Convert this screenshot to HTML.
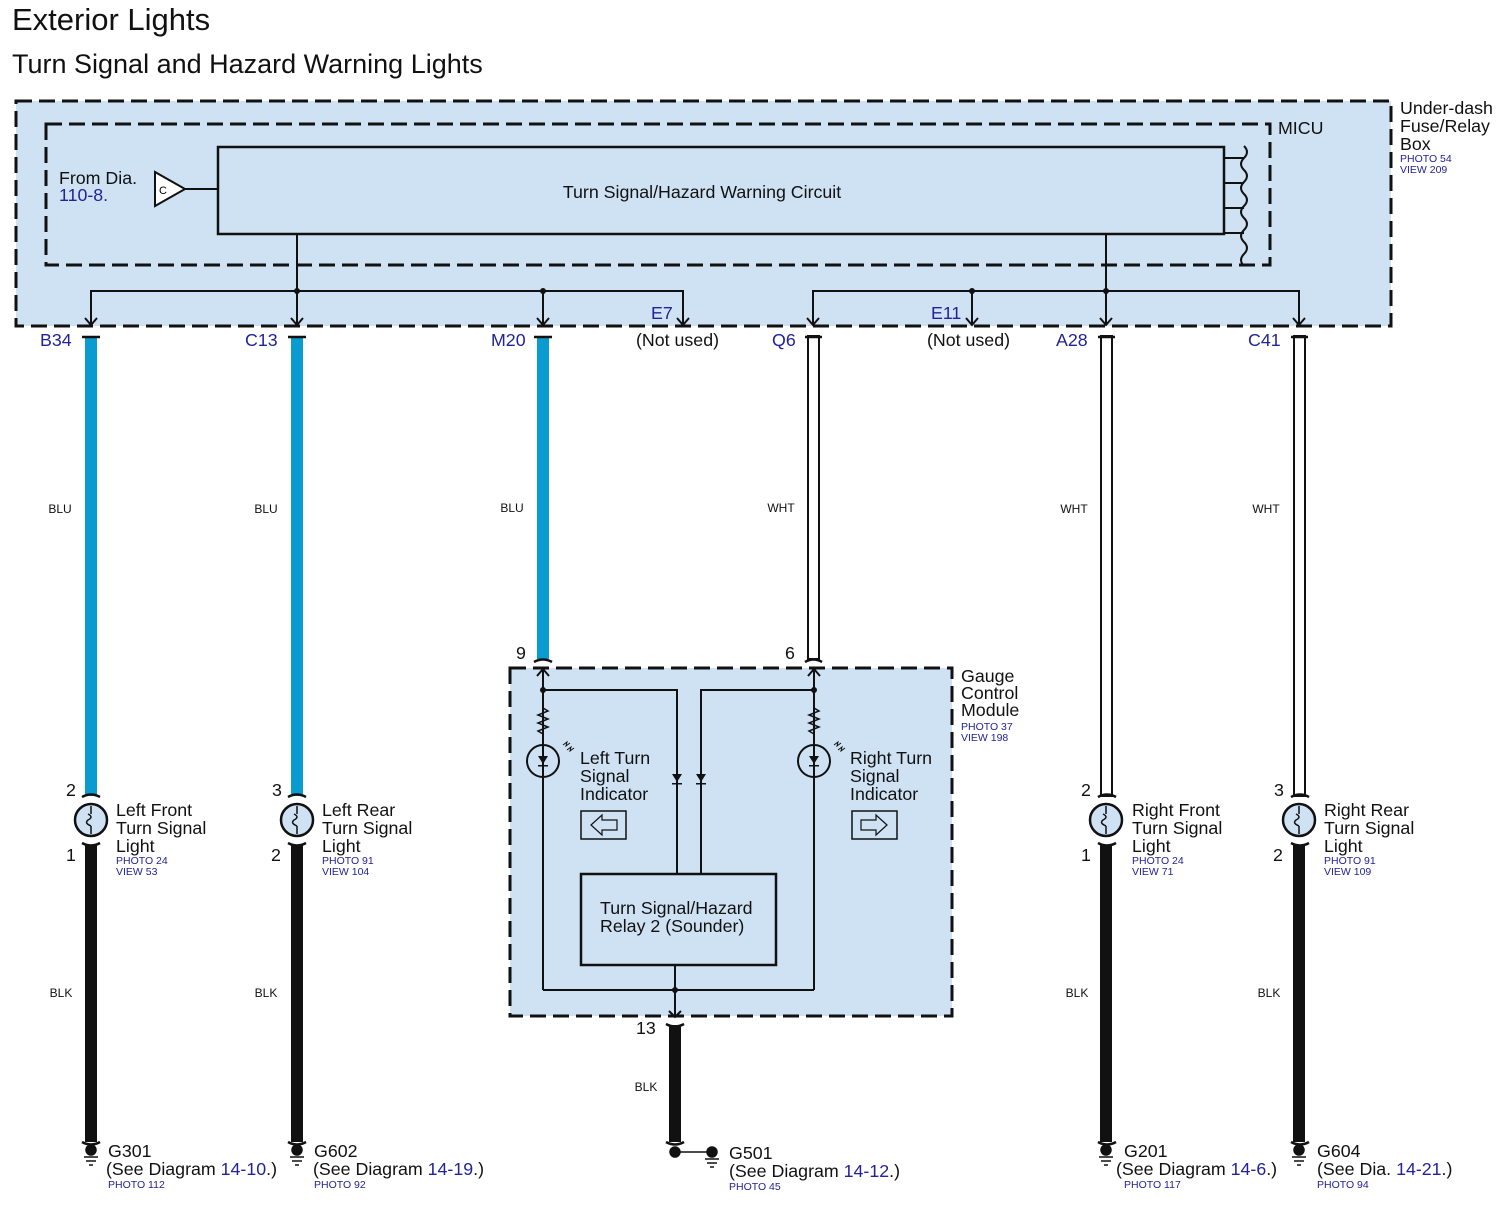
<!DOCTYPE html>
<html><head><meta charset="utf-8"><style>
body{margin:0;background:#fff}
svg{display:block;font-family:"Liberation Sans",sans-serif}
.t{font-size:17.8px;fill:#111}
.b{fill:#22229a}
.s{font-size:10.5px;fill:#22229a}
.w{font-size:12px;fill:#111}
</style></head><body>
<svg width="1503" height="1207" viewBox="0 0 1503 1207">
<text x="12" y="30" style="font-size:31px" fill="#111">Exterior Lights</text>
<text x="12" y="73" style="font-size:27px" fill="#111">Turn Signal and Hazard Warning Lights</text>

<rect x="16" y="101" width="1375" height="225" fill="#cfe2f4" stroke="#111" stroke-width="3" stroke-dasharray="16,7"/>
<rect x="46" y="124" width="1224" height="141" fill="none" stroke="#111" stroke-width="3" stroke-dasharray="16,7"/>
<rect x="218" y="147" width="1006" height="87" fill="#cfe2f4" stroke="#111" stroke-width="2.5"/>
<text x="702" y="198" class="t" text-anchor="middle">Turn Signal/Hazard Warning Circuit</text>
<g stroke="#111" stroke-width="2" fill="none">
<line x1="1224" y1="158" x2="1244" y2="158"/><line x1="1224" y1="183" x2="1244" y2="183"/><line x1="1224" y1="208" x2="1244" y2="208"/><line x1="1224" y1="233" x2="1244" y2="233"/>
<path d="M1244 146 q6 6 0 12 q-6 6 0 12 q6 6 0 12 q-6 6 0 12 q6 6 0 12 q-6 6 0 12 q6 6 0 12 q-6 6 0 12 q6 6 0 12 q-6 6 0 12"/>
</g>
<text x="1278" y="134" class="t">MICU</text>
<text x="1400" y="114" class="t">Under-dash</text>
<text x="1400" y="132" class="t">Fuse/Relay</text>
<text x="1400" y="150" class="t">Box</text>
<text x="1400" y="162" class="s">PHOTO 54</text>
<text x="1400" y="173" class="s">VIEW 209</text>
<text x="59" y="184" class="t">From Dia.</text>
<text x="59" y="201" class="t b">110-8.</text>
<polygon points="155,172 155,206 185,189" fill="#fff" stroke="#111" stroke-width="2"/>
<text x="159" y="194" style="font-size:11px">C</text>
<line x1="185" y1="189" x2="218" y2="189" stroke="#111" stroke-width="2"/>

<g stroke="#111" stroke-width="2" fill="none">
<line x1="297" y1="234" x2="297" y2="325"/>
<polyline points="91,325 91,291 683,291 683,325"/>
<line x1="543" y1="291" x2="543" y2="325"/>
<line x1="1106" y1="234" x2="1106" y2="325"/>
<polyline points="813,325 813,291 1299,291 1299,325"/>
<line x1="972" y1="291" x2="972" y2="325"/>
<path d="M85 318 l6 7 l6 -7 M291 318 l6 7 l6 -7 M537 318 l6 7 l6 -7 M677 318 l6 7 l6 -7 M807 318 l6 7 l6 -7 M966 318 l6 7 l6 -7 M1100 318 l6 7 l6 -7 M1293 318 l6 7 l6 -7"/>
</g>
<g fill="#111"><circle cx="297" cy="291" r="3"/><circle cx="543" cy="291" r="3"/><circle cx="972" cy="291" r="3"/><circle cx="1106" cy="291" r="3"/></g>

<g class="t b">
<text x="40" y="346">B34</text><text x="245" y="346">C13</text><text x="491" y="346">M20</text>
<text x="651" y="319">E7</text><text x="772" y="346">Q6</text><text x="931" y="319">E11</text>
<text x="1056" y="346">A28</text><text x="1248" y="346">C41</text>
</g>
<text x="636" y="346" class="t">(Not used)</text>
<text x="927" y="346" class="t">(Not used)</text>

<g fill="#0a9bd0">
<rect x="85" y="336" width="12" height="460"/>
<rect x="291" y="336" width="12" height="460"/>
<rect x="537" y="336" width="12" height="323"/>
</g>
<g fill="#fff" stroke="#111" stroke-width="2">
<rect x="808" y="336" width="11" height="323"/>
<rect x="1101" y="336" width="11" height="460"/>
<rect x="1294" y="336" width="11" height="460"/>
</g>
<g stroke="#111" stroke-width="2.5" fill="none">
<path d="M82 337 h18 M288 337 h18 M534 337 h18 M805 337 h17 M1098 337 h17 M1291 337 h17"/>
<path d="M534 662 q9 -5 18 0 M805 662 q8.5 -5 17 0"/>
<path d="M82 797 q9 -5 18 0 M288 797 q9 -5 18 0 M1098 797 q9 -5 18 0 M1291 797 q9 -5 18 0"/>
<path d="M82 843 q9 5 18 0 M288 843 q9 5 18 0 M1098 843 q9 5 18 0 M1291 843 q9 5 18 0"/>
<path d="M666 1024 q9 5 18 0 M666 1142 q9 5 18 0"/>
<path d="M82 1142 q9 5 18 0 M288 1142 q9 5 18 0 M1098 1142 q9 5 18 0 M1291 1142 q9 5 18 0"/>
</g>
<g class="w" text-anchor="middle">
<text x="60" y="513">BLU</text><text x="266" y="513">BLU</text><text x="512" y="512">BLU</text>
<text x="781" y="512">WHT</text><text x="1074" y="513">WHT</text><text x="1266" y="513">WHT</text>
<text x="61" y="997">BLK</text><text x="266" y="997">BLK</text><text x="646" y="1091">BLK</text>
<text x="1077" y="997">BLK</text><text x="1269" y="997">BLK</text>
</g>

<g fill="#111">
<rect x="85" y="845" width="12" height="297"/>
<rect x="291" y="845" width="12" height="297"/>
<rect x="1100" y="845" width="12" height="297"/>
<rect x="1293" y="845" width="12" height="297"/>
<rect x="669" y="1025" width="12" height="117"/>
</g>

<g stroke="#111" stroke-width="2.5" fill="#cfe2f4">
<circle cx="91" cy="820" r="16"/><circle cx="297" cy="820" r="16"/><circle cx="1106" cy="820" r="16"/><circle cx="1299" cy="820" r="16"/>
</g>
<g stroke="#111" stroke-width="1.5" fill="none">
<path d="M91 806 v8 m0 12 v8 M88 814 q6 3 0 6 q-4 3 3 6 M297 806 v8 m0 12 v8 M294 814 q6 3 0 6 q-4 3 3 6 M1106 806 v8 m0 12 v8 M1103 814 q6 3 0 6 q-4 3 3 6 M1299 806 v8 m0 12 v8 M1296 814 q6 3 0 6 q-4 3 3 6"/>
</g>
<g class="t">
<text x="66" y="796">2</text><text x="66" y="861">1</text>
<text x="272" y="796">3</text><text x="271" y="861">2</text>
<text x="1081" y="796">2</text><text x="1081" y="861">1</text>
<text x="1274" y="796">3</text><text x="1273" y="861">2</text>
<text x="516" y="659">9</text><text x="785" y="659">6</text><text x="636" y="1034">13</text>
</g>
<g class="t">
<text x="116" y="816">Left Front</text><text x="116" y="834">Turn Signal</text><text x="116" y="852">Light</text>
<text x="322" y="816">Left Rear</text><text x="322" y="834">Turn Signal</text><text x="322" y="852">Light</text>
<text x="1132" y="816">Right Front</text><text x="1132" y="834">Turn Signal</text><text x="1132" y="852">Light</text>
<text x="1324" y="816">Right Rear</text><text x="1324" y="834">Turn Signal</text><text x="1324" y="852">Light</text>
</g>
<g class="s">
<text x="116" y="864">PHOTO 24</text><text x="116" y="875">VIEW 53</text>
<text x="322" y="864">PHOTO 91</text><text x="322" y="875">VIEW 104</text>
<text x="1132" y="864">PHOTO 24</text><text x="1132" y="875">VIEW 71</text>
<text x="1324" y="864">PHOTO 91</text><text x="1324" y="875">VIEW 109</text>
</g>

<rect x="510" y="668" width="442" height="348" fill="#cfe2f4" stroke="#111" stroke-width="3" stroke-dasharray="16,7"/>
<text x="961" y="682" class="t">Gauge</text><text x="961" y="699" class="t">Control</text><text x="961" y="716" class="t">Module</text>
<text x="961" y="730" class="s">PHOTO 37</text><text x="961" y="741" class="s">VIEW 198</text>
<g stroke="#111" stroke-width="2" fill="none">
<line x1="543" y1="668" x2="543" y2="990"/>
<line x1="814" y1="668" x2="814" y2="990"/>
<path d="M537 676 l6 -7 l6 7 M808 676 l6 -7 l6 7"/>
<polyline points="543,690 677,690 677,874"/>
<polyline points="814,690 701,690 701,874"/>
<polyline points="543,990 814,990"/>
<line x1="675" y1="965" x2="675" y2="1016"/>
<path d="M669 1011 l6 6 l6 -6"/>
<path d="M543 708 l5 3 l-10 4 l10 4 l-10 4 l10 4 l-10 4 l5 3 M814 708 l5 3 l-10 4 l10 4 l-10 4 l10 4 l-10 4 l5 3" stroke-width="1.5"/>
<circle cx="543" cy="761" r="16"/><circle cx="814" cy="761" r="16"/>
<path d="M563 745 l4 -3 l-1 4 l4 -3 M567 750 l4 -3 l-1 4 l4 -3 M834 745 l4 -3 l-1 4 l4 -3 M838 750 l4 -3 l-1 4 l4 -3" stroke-width="1"/>
<rect x="581" y="811" width="45" height="28" stroke-width="1.5"/>
<rect x="852" y="811" width="45" height="28" stroke-width="1.5"/>
<polygon points="591,825 602,815 602,820 617,820 617,830 602,830 602,835" stroke-width="1.2"/>
<polygon points="887,825 876,815 876,820 861,820 861,830 876,830 876,835" stroke-width="1.2"/>
</g>
<g fill="#111">
<polygon points="538,756 548,756 543,764"/><rect x="538" y="765" width="10" height="1.5"/>
<polygon points="809,756 819,756 814,764"/><rect x="809" y="765" width="10" height="1.5"/>
<polygon points="672,774 682,774 677,782"/><rect x="672" y="783" width="10" height="1.5"/>
<polygon points="696,774 706,774 701,782"/><rect x="696" y="783" width="10" height="1.5"/>
<circle cx="543" cy="690" r="3"/><circle cx="814" cy="690" r="3"/><circle cx="675" cy="990" r="3"/>
</g>
<text x="580" y="764" class="t">Left Turn</text><text x="580" y="782" class="t">Signal</text><text x="580" y="800" class="t">Indicator</text>
<text x="850" y="764" class="t">Right Turn</text><text x="850" y="782" class="t">Signal</text><text x="850" y="800" class="t">Indicator</text>
<rect x="581" y="874" width="195" height="91" fill="#cfe2f4" stroke="#111" stroke-width="2.5"/>
<text x="600" y="914" class="t">Turn Signal/Hazard</text><text x="600" y="932" class="t">Relay 2 (Sounder)</text>

<g fill="#111" stroke="#111" stroke-width="1.5">
<circle cx="91" cy="1150" r="5"/><circle cx="297" cy="1150" r="5"/><circle cx="1106" cy="1150" r="5"/><circle cx="1299" cy="1150" r="5"/>
<circle cx="675" cy="1152" r="5"/><circle cx="712" cy="1152" r="5"/>
<line x1="675" y1="1152" x2="712" y2="1152"/>
<path d="M84 1157 h14 M86 1161 h10 M89 1165 h4 M290 1157 h14 M292 1161 h10 M295 1165 h4 M1099 1157 h14 M1101 1161 h10 M1104 1165 h4 M1292 1157 h14 M1294 1161 h10 M1297 1165 h4 M705 1159 h14 M707 1163 h10 M710 1167 h4" fill="none"/>
</g>
<g class="t">
<text x="108" y="1157">G301</text><text x="106" y="1175">(See Diagram <tspan class="b">14-10</tspan>.)</text>
<text x="314" y="1157">G602</text><text x="313" y="1175">(See Diagram <tspan class="b">14-19</tspan>.)</text>
<text x="729" y="1159">G501</text><text x="729" y="1177">(See Diagram <tspan class="b">14-12</tspan>.)</text>
<text x="1124" y="1157">G201</text><text x="1116" y="1175">(See Diagram <tspan class="b">14-6</tspan>.)</text>
<text x="1317" y="1157">G604</text><text x="1317" y="1175">(See Dia. <tspan class="b">14-21</tspan>.)</text>
</g>
<g class="s">
<text x="108" y="1188">PHOTO 112</text><text x="314" y="1188">PHOTO 92</text><text x="729" y="1190">PHOTO 45</text>
<text x="1124" y="1188">PHOTO 117</text><text x="1317" y="1188">PHOTO 94</text>
</g>
</svg>
</body></html>
